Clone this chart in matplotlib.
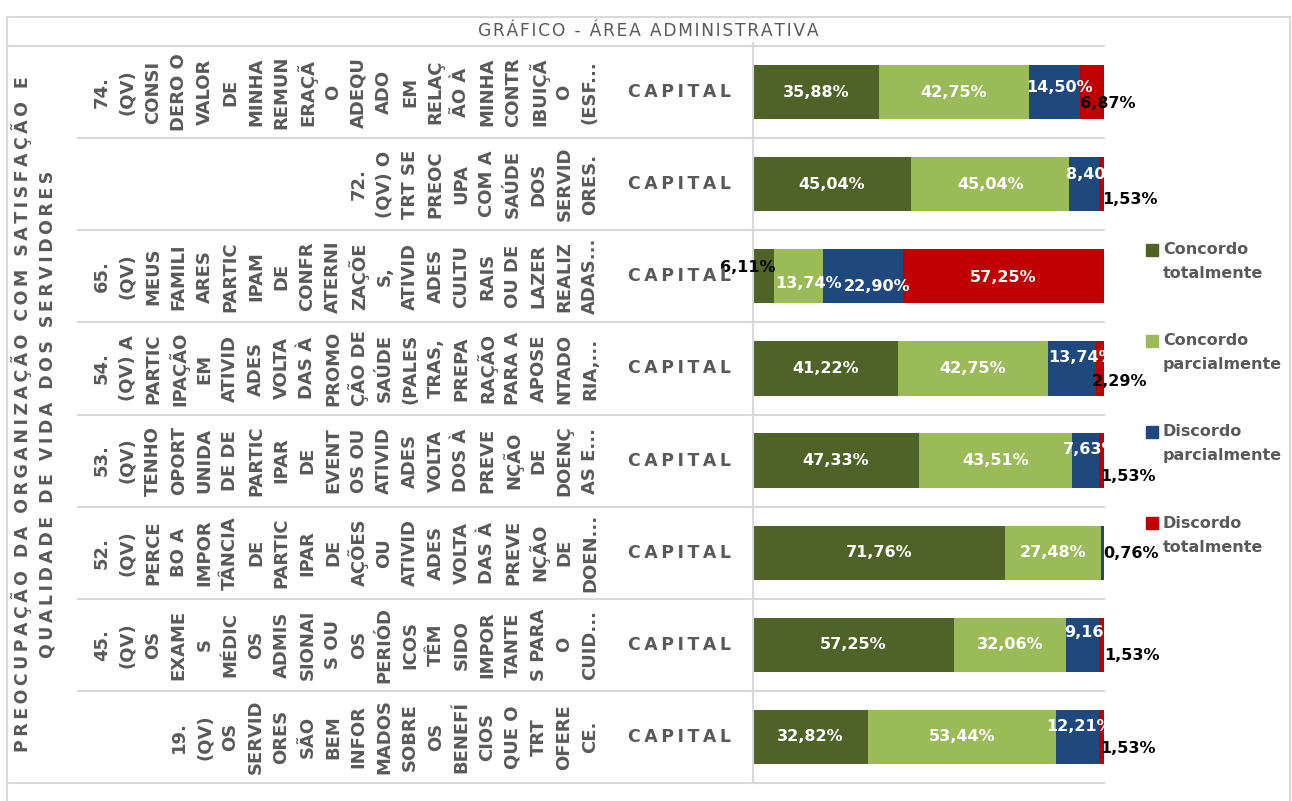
import matplotlib
matplotlib.use("Agg")
import matplotlib.pyplot as plt
from matplotlib import transforms
from matplotlib.lines import Line2D
from matplotlib.patches import Rectangle

W, H = 1292, 801

# ---------- data ----------
group_label = ["PREOCUPAÇÃO DA ORGANIZAÇÃO COM SATISFAÇÃO E",
               "QUALIDADE DE VIDA DOS SERVIDORES"]

# question labels, as wrapped in the original (one entry per wrapped line)
questions = [
    ["74.", "(QV)", "CONSI", "DERO O", "VALOR", "DE", "MINHA", "REMUN", "ERAÇÃ", "O",
     "ADEQU", "ADO", "EM", "RELAÇ", "ÃO À", "MINHA", "CONTR", "IBUIÇÃ", "O", "(ESF..."],
    ["72.", "(QV) O", "TRT SE", "PREOC", "UPA", "COM A", "SAÚDE", "DOS", "SERVID", "ORES."],
    ["65.", "(QV)", "MEUS", "FAMILI", "ARES", "PARTIC", "IPAM", "DE", "CONFR", "ATERNI",
     "ZAÇÕE", "S,", "ATIVID", "ADES", "CULTU", "RAIS", "OU DE", "LAZER", "REALIZ", "ADAS..."],
    ["54.", "(QV) A", "PARTIC", "IPAÇÃO", "EM", "ATIVID", "ADES", "VOLTA", "DAS À", "PROMO",
     "ÇÃO DE", "SAÚDE", "(PALES", "TRAS,", "PREPA", "RAÇÃO", "PARA A", "APOSE", "NTADO", "RIA,..."],
    ["53.", "(QV)", "TENHO", "OPORT", "UNIDA", "DE DE", "PARTIC", "IPAR", "DE", "EVENT",
     "OS OU", "ATIVID", "ADES", "VOLTA", "DOS À", "PREVE", "NÇÃO", "DE", "DOENÇ", "AS E..."],
    ["52.", "(QV)", "PERCE", "BO A", "IMPOR", "TÂNCIA", "DE", "PARTIC", "IPAR", "DE",
     "AÇÕES", "OU", "ATIVID", "ADES", "VOLTA", "DAS À", "PREVE", "NÇÃO", "DE", "DOEN..."],
    ["45.", "(QV)", "OS", "EXAME", "S", "MÉDIC", "OS", "ADMIS", "SIONAI", "S OU",
     "OS", "PERIÓD", "ICOS", "TÊM", "SIDO", "IMPOR", "TANTE", "S PARA", "O", "CUID..."],
    ["19.", "(QV)", "OS", "SERVID", "ORES", "SÃO", "BEM", "INFOR", "MADOS", "SOBRE",
     "OS", "BENEFÍ", "CIOS", "QUE O", "TRT", "OFERE", "CE."],
]
region = ["CAPITAL"] * 8

series_names = ["Concordo\ntotalmente", "Concordo\nparcialmente",
                "Discordo\nparcialmente", "Discordo\ntotalmente"]
concordo_total = [35.88, 45.04, 6.11, 41.22, 47.33, 71.76, 57.25, 32.82]
concordo_parcial = [42.75, 45.04, 13.74, 42.75, 43.51, 27.48, 32.06, 53.44]
discordo_parcial = [14.50, 8.40, 22.90, 13.74, 7.63, 0.76, 9.16, 12.21]
discordo_total = [6.87, 1.53, 57.25, 2.29, 1.53, 0.00, 1.53, 1.53]

colors = ["#4F6228", "#9BBB59", "#1F497D", "#C00000"]
GRAY = "#595959"
LINE = "#D9D9D9"

# label nudges (px right, px down, colour) where the default does not apply
label_style = {
    (0, 2): (5, -5, "white"), (0, 3): (16, 11, "black"),
    (1, 2): (10, -10, "white"), (1, 3): (29, 15, "black"),
    (2, 0): (-16, -9, "black"), (2, 1): (10, 7, "white"),
    (2, 2): (14, 10, "white"), (2, 3): (0, 1, "white"),
    (3, 2): (10, -11, "white"), (3, 3): (20, 13, "black"),
    (4, 2): (5, -11, "white"), (4, 3): (27, 16, "black"),
    (5, 2): (28, 1, "black"),
    (6, 2): (9, -12, "white"), (6, 3): (31, 11, "black"),
    (7, 2): (2, -10, "white"), (7, 3): (27, 12, "black"),
}


def fx(x):
    return x / W


def fy(y):
    return 1 - y / H


def track(s, sep="\u200a"):
    return sep.join(s)


fig = plt.figure(figsize=(W / 100, H / 100), dpi=100)
fig.patch.set_facecolor("white")

ax = fig.add_axes([fx(753), fy(783), fx(1104) - fx(753), fy(46) - fy(783)])
ax.set_xlim(0, 100)
ax.set_ylim(len(questions) - 0.5, -0.5)
for s in ["top", "right", "bottom"]:
    ax.spines[s].set_visible(False)
ax.spines["left"].set_color(LINE)
ax.spines["left"].set_linewidth(1.5)
ax.set_xticks([])
ax.set_yticks([])

data = [concordo_total, concordo_parcial, discordo_parcial, discordo_total]
rows = list(range(len(questions)))
left = [0.0] * len(rows)
for k, vals in enumerate(data):
    ax.barh(rows, vals, left=left, height=0.59, color=colors[k], edgecolor="none", zorder=2)
    for i, v in enumerate(vals):
        if v <= 0:
            continue
        dx, dy, col = label_style.get((i, k), (0, 0, "white"))
        txt = f"{v:.2f}%".replace(".", ",")
        ax.annotate(txt, xy=(left[i] + v / 2, i), xytext=(dx * 0.72, -dy * 0.72),
                    textcoords="offset points", ha="center", va="center",
                    fontsize=11.5, fontweight="bold", color=col, zorder=5,
                    annotation_clip=False)
    left = [a + b for a, b in zip(left, vals)]

# ---------- category axis (multi-level) ----------
blend = transforms.blended_transform_factory(fig.transFigure, ax.transData)
n = len(questions)
for b in range(n + 1):
    yb = b - 0.5
    x0 = 7 if b in (0, n) else 78
    fig.add_artist(Line2D([fx(x0), fx(1104)], [yb, yb], transform=blend,
                          color=LINE, lw=1.5, zorder=1))

PITCH = 25.7
LAST_X = 590
for i, lines in enumerate(questions):
    m = len(lines)
    for j, ln in enumerate(lines):
        xp = LAST_X - (m - 1 - j) * PITCH
        fig.text(fx(xp), i, ln, transform=blend, rotation=90, ha="center", va="center",
                 fontsize=13, fontweight="bold", color=GRAY)
    fig.text(fx(679), i, track(region[i], "\u2009"), transform=blend, ha="center",
             va="center", fontsize=12.5, fontweight="bold", color=GRAY)

for j, ln in enumerate(group_label):
    fig.text(fx(22 + j * 26), (n - 1) / 2, track(ln, "\u200a\u200a"), transform=blend,
             rotation=90, ha="center", va="center", fontsize=12.5, fontweight="bold",
             color=GRAY)

# ---------- frame and title ----------
fig.add_artist(Line2D([fx(7), fx(1290)], [fy(17), fy(17)], color=LINE, lw=1.5))
fig.add_artist(Line2D([fx(7), fx(7)], [fy(17), fy(801)], color=LINE, lw=1.5))
fig.add_artist(Line2D([fx(1290), fx(1290)], [fy(17), fy(801)], color=LINE, lw=1.5))
fig.add_artist(Line2D([fx(753), fx(753)], [fy(43), fy(47)], color=LINE, lw=1.5))

fig.text(fx(648), fy(31), track("GRÁFICO - ÁREA ADMINISTRATIVA"), ha="center",
         va="center", fontsize=12.3, color=GRAY)

# ---------- legend ----------
for k, name in enumerate(series_names):
    y0 = 250 + k * 91
    fig.add_artist(Rectangle((fx(1146), fy(y0 + 6)), 12 / W, 12 / H,
                             transform=fig.transFigure, color=colors[k]))
    for j, part in enumerate(name.split("\n")):
        fig.text(fx(1163), fy(y0 + j * 24), part, ha="left", va="center",
                 fontsize=11.5, fontweight="bold", color=GRAY)

fig.savefig("out.png", dpi=100)
